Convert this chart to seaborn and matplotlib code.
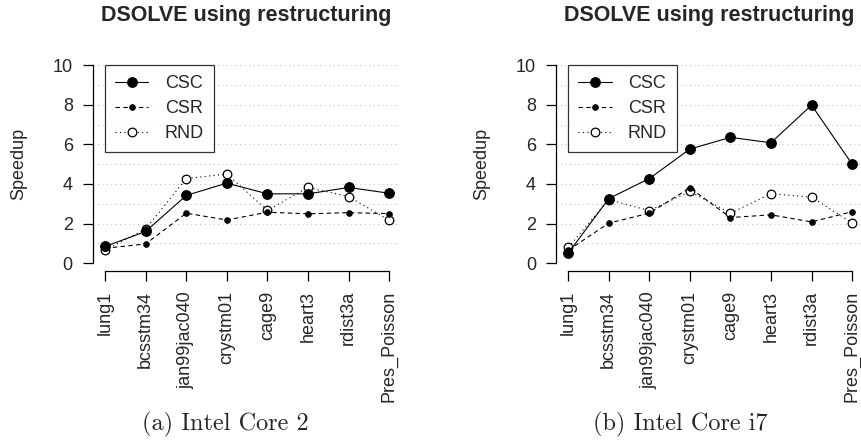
import matplotlib
matplotlib.use("Agg")
import matplotlib.pyplot as plt
import seaborn as sns
import pandas as pd

categories = ["lung1", "bcsstm34", "jan99jac040", "crystm01", "cage9", "heart3", "rdist3a", "Pres_Poisson"]

core2_csc = [0.84, 1.6, 3.42, 4.04, 3.5, 3.5, 3.82, 3.53]
core2_csr = [0.75, 0.97, 2.52, 2.18, 2.57, 2.49, 2.55, 2.5]
core2_rnd = [0.66, 1.73, 4.27, 4.5, 2.66, 3.82, 3.36, 2.17]

i7_csc = [0.5, 3.26, 4.27, 5.76, 6.35, 6.08, 7.98, 5.0]
i7_csr = [0.65, 2.02, 2.52, 3.8, 2.3, 2.44, 2.08, 2.6]
i7_rnd = [0.8, 3.2, 2.65, 3.62, 2.52, 3.51, 3.33, 2.03]

title_text = "DSOLVE using restructuring"
captions = ["(a) Intel Core 2", "(b) Intel Core i7"]
ylabel = "Speedup"
yticks = [0, 2, 4, 6, 8, 10]

sns.set_style("white")
plt.rcParams["font.family"] = ["Liberation Sans", "DejaVu Sans"]

fig = plt.figure(figsize=(8.61, 4.4), dpi=100)
positions = [[0.108, 0.384, 0.3566, 0.486], [0.6458, 0.384, 0.3566, 0.486]]
caption_x = [225 / 861, 680 / 861]
datasets = [(core2_csc, core2_csr, core2_rnd), (i7_csc, i7_csr, i7_rnd)]

for k, (pos, (csc, csr, rnd)) in enumerate(zip(positions, datasets)):
    ax = fig.add_axes(pos)
    xs = list(range(len(categories)))
    df = pd.DataFrame({"x": xs, "CSC": csc, "CSR": csr, "RND": rnd})
    ax.set_xlim(-0.3, 7.27)
    ax.set_ylim(-0.4, 10.4)
    for y in range(1, 11):
        ax.axhline(y, color="#c4c4c4", lw=0.8, ls=(0, (1, 3)), zorder=0)
    sns.lineplot(data=df, x="x", y="RND", ax=ax, color="black", lw=0.8,
                 linestyle=(0, (1, 3)), marker="o", markersize=6.2,
                 markerfacecolor="white", markeredgecolor="black",
                 markeredgewidth=0.9, label="RND", zorder=2)
    sns.lineplot(data=df, x="x", y="CSR", ax=ax, color="black", lw=0.8,
                 linestyle=(0, (4, 3)), marker="o", markersize=4,
                 markerfacecolor="black", markeredgecolor="black",
                 label="CSR", zorder=3)
    sns.lineplot(data=df, x="x", y="CSC", ax=ax, color="black", lw=0.8,
                 linestyle="-", marker="o", markersize=7,
                 markerfacecolor="black", markeredgecolor="black",
                 label="CSC", zorder=4)
    handles, labels = ax.get_legend_handles_labels()
    order = [labels.index(n) for n in ["CSC", "CSR", "RND"]]
    leg = ax.legend([handles[i] for i in order], [labels[i] for i in order],
                    loc="upper left", bbox_to_anchor=(0, 10),
                    bbox_transform=ax.transData, borderaxespad=0,
                    frameon=True, fancybox=False, edgecolor="black",
                    fontsize=13, handlelength=1.85, handletextpad=0.9,
                    labelspacing=0.45, borderpad=0.55)
    leg.get_frame().set_linewidth(0.9)
    ax.set_xticks(xs)
    ax.set_xticklabels(categories, rotation=90, fontsize=13)
    ax.set_yticks(yticks)
    ax.set_yticklabels([str(t) for t in yticks], fontsize=13)
    ax.set_xlabel("")
    ax.set_ylabel(ylabel, fontsize=13)
    ax.yaxis.set_label_coords(-0.215, 0.5)
    for s in ["top", "right"]:
        ax.spines[s].set_visible(False)
    for s in ["left", "bottom"]:
        ax.spines[s].set_color("black")
        ax.spines[s].set_linewidth(0.9)
    ax.spines["left"].set_bounds(0, 10)
    ax.spines["bottom"].set_bounds(0, 7)
    ax.tick_params(axis="both", which="major", length=7.5, width=0.9,
                   color="black", direction="out", left=True, bottom=True, pad=7)
    ax.set_title(title_text, fontsize=15.5, fontweight="bold", pad=26)
    fig.text(caption_x[k], 0.036, captions[k], ha="center", va="center",
             family="cmr10", fontsize=17.5)

fig.savefig("out.png", dpi=100)
